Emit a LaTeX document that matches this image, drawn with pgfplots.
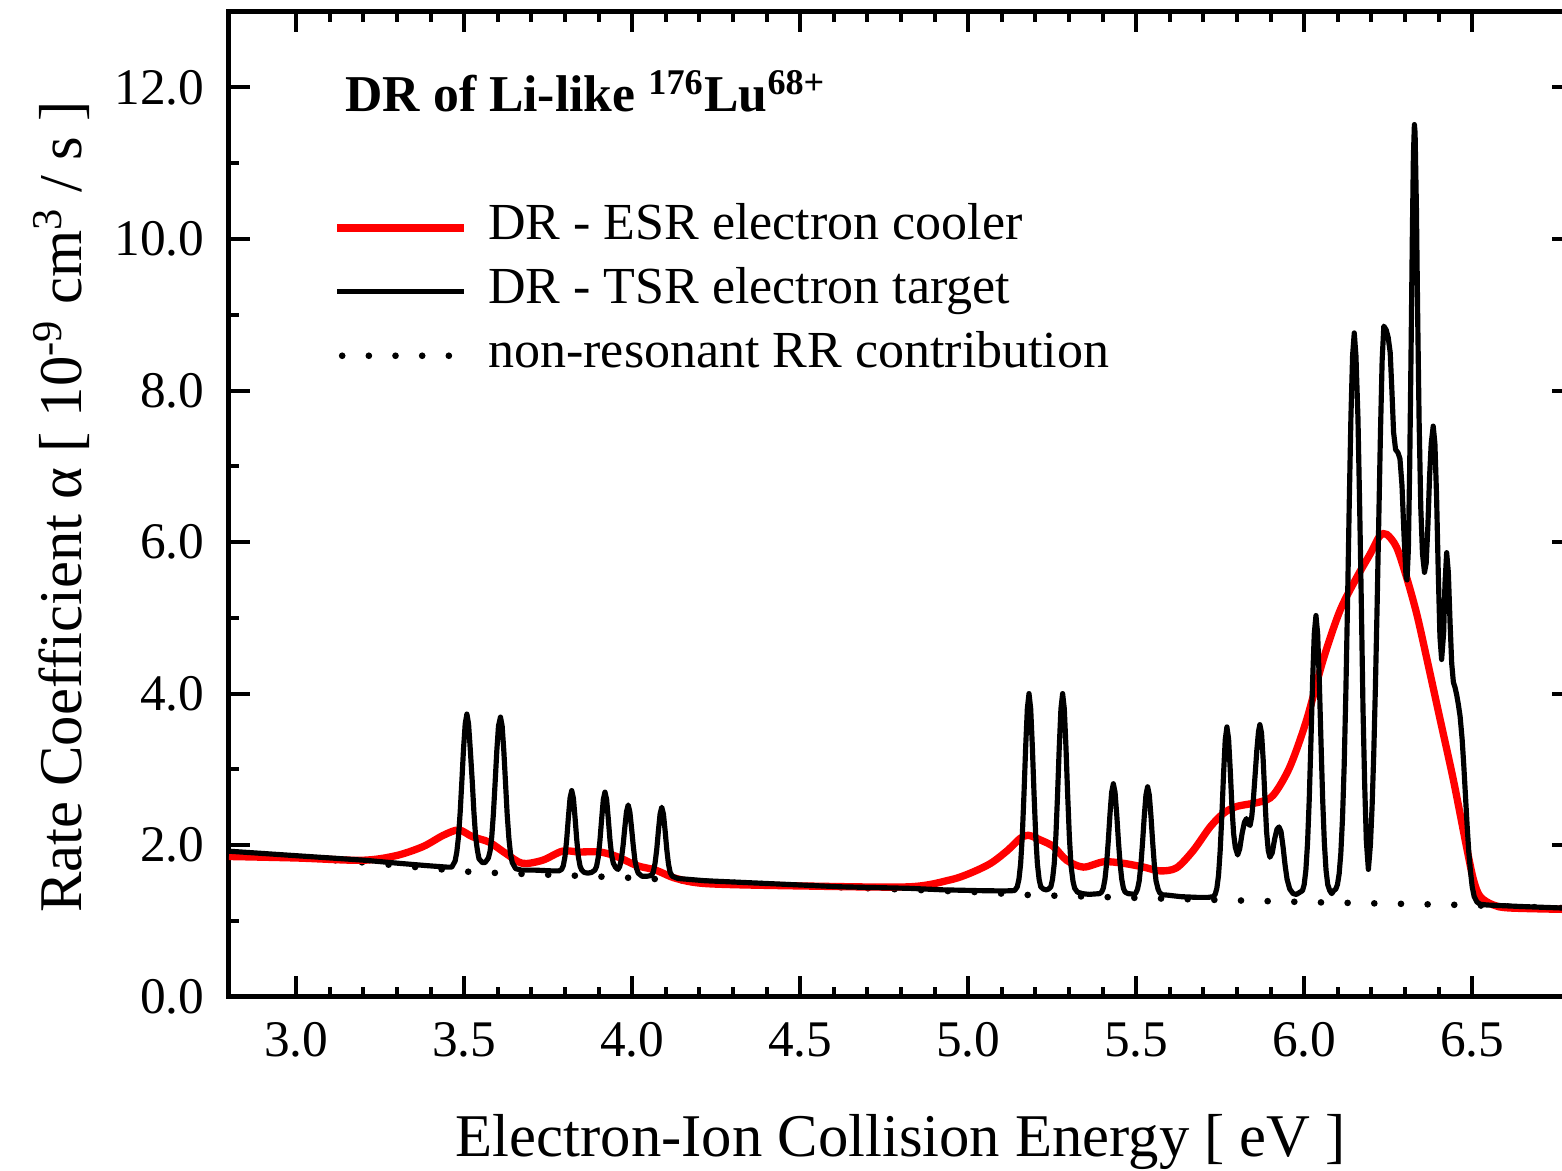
\documentclass[border=0pt]{standalone}
\usepackage{fontspec}
\setmainfont{Liberation Serif}
\usepackage{pgfplots}
\pgfplotsset{compat=1.18}
\begin{document}
\begin{tikzpicture}
\begin{axis}[
  at={(0pt,0pt)}, anchor=south west,
  scale only axis,
  width=403.2pt, height=295.5pt,
  xmin=2.8, xmax=6.8, ymin=0, ymax=13,
  xtick={3.0,3.5,...,6.5},
  ytick={0,2,...,12},
  minor x tick num=4,
  minor y tick num=1,
  tick align=inside,
  major tick length=6.2pt,
  minor tick length=3pt,
  tick style={black, line width=1.2pt},
  axis line style={line width=1.5pt},
  ticklabel style={font=\fontsize{15.4}{18}\selectfont},
  yticklabel style={xshift=-3.9pt},
  xticklabel style={yshift=-4.3pt},
  xlabel={Electron-Ion Collision Energy [ eV ]},
  ylabel={Rate Coefficient α [ 10\textsuperscript{-9} cm\textsuperscript{3} / s ]},
  xlabel style={font=\fontsize{18.2}{22}\selectfont, at={(axis description cs:0.5,-0.1624)}, anchor=base},
  ylabel style={font=\fontsize{18.2}{22}\selectfont, at={(axis description cs:-0.1094,0.497)}, anchor=base},
  legend style={at={(axis description cs:0.0774,0.806)}, anchor=north west, draw=none, fill=none,
    inner sep=0pt, outer sep=0pt, row sep=4.2pt,
    font=\fontsize{15.6}{18}\selectfont,
    nodes={inner sep=0pt, text height=11pt, text depth=4pt}},
  legend cell align=left,
  legend image code/.code={\draw[#1] (0pt,0pt) -- (38pt,0pt);},
  /tikz/every odd column/.append style={column sep=6.1pt},
  /pgf/number format/.cd, fixed, fixed zerofill, precision=1, assume math mode=true
]
% non-resonant RR contribution
\addplot[forget plot, black, line width=2pt, line cap=round, dash pattern=on 0pt off 8pt] coordinates {
(2.800,1.90)(3.002,1.84)(3.205,1.77)(3.407,1.69)(3.508,1.65)(3.610,1.63)(3.812,1.60)(4.014,1.565)(4.217,1.52)(4.520,1.46)(4.773,1.42)(5.026,1.38)(5.158,1.345)(5.279,1.33)(5.532,1.30)(5.755,1.275)(6.038,1.245)(6.291,1.225)(6.473,1.21)(6.544,1.20)(6.800,1.165)};
% DR - ESR electron cooler
\addplot[forget plot, red, line width=2.2pt, smooth] coordinates {
(2.800,1.85)(3.002,1.83)(3.195,1.80)(3.296,1.86)(3.377,1.98)(3.438,2.13)(3.484,2.20)(3.525,2.11)(3.574,2.04)(3.624,1.89)(3.673,1.76)(3.733,1.80)(3.792,1.92)(3.842,1.91)(3.903,1.91)(3.954,1.85)(4.014,1.73)(4.070,1.67)(4.131,1.56)(4.227,1.49)(4.520,1.46)(4.824,1.45)(4.945,1.54)(5.006,1.63)(5.067,1.76)(5.117,1.93)(5.155,2.09)(5.179,2.13)(5.214,2.07)(5.254,1.98)(5.293,1.80)(5.343,1.71)(5.403,1.78)(5.462,1.76)(5.522,1.71)(5.571,1.66)(5.620,1.70)(5.670,1.93)(5.720,2.24)(5.760,2.42)(5.799,2.51)(5.868,2.57)(5.908,2.66)(5.957,3.03)(6.007,3.65)(6.056,4.44)(6.106,5.09)(6.156,5.53)(6.196,5.84)(6.225,6.08)(6.246,6.10)(6.275,5.93)(6.305,5.53)(6.335,5.05)(6.364,4.48)(6.403,3.69)(6.444,2.86)(6.483,1.98)(6.504,1.54)(6.524,1.32)(6.563,1.21)(6.613,1.17)(6.800,1.15)};
% DR - TSR electron target
\addplot[forget plot, black, line width=1.55pt, line join=round] coordinates {
(2.800,1.92)(2.901,1.89)(3.002,1.86)(3.104,1.83)(3.205,1.80)(3.306,1.76)(3.387,1.73)(3.448,1.71)
(3.463,1.71)(3.473,1.79)(3.478,1.91)(3.483,2.11)(3.488,2.43)(3.493,2.84)(3.498,3.27)(3.503,3.60)(3.508,3.73)(3.513,3.60)(3.518,3.27)(3.524,2.84)(3.529,2.43)(3.534,2.11)(3.539,1.94)(3.544,1.82)(3.554,1.77)(3.562,1.77)
(3.572,1.83)(3.577,1.92)(3.582,2.11)(3.587,2.42)(3.592,2.82)(3.597,3.24)(3.602,3.57)(3.608,3.69)(3.613,3.57)(3.618,3.24)(3.623,2.82)(3.628,2.40)(3.633,2.09)(3.638,1.88)(3.643,1.77)(3.653,1.69)(3.670,1.67)(3.711,1.67)(3.761,1.66)(3.782,1.66)
(3.790,1.68)(3.795,1.73)(3.800,1.85)(3.805,2.07)(3.810,2.36)(3.815,2.62)(3.820,2.72)(3.825,2.62)(3.830,2.36)(3.835,2.07)(3.840,1.84)(3.845,1.72)(3.850,1.67)(3.857,1.64)(3.868,1.63)(3.879,1.64)
(3.889,1.67)(3.894,1.72)(3.899,1.84)(3.904,2.06)(3.909,2.34)(3.914,2.60)(3.919,2.70)(3.924,2.60)(3.929,2.34)(3.934,2.06)(3.939,1.86)(3.944,1.76)(3.950,1.71)(3.954,1.69)
(3.958,1.68)(3.963,1.72)(3.968,1.82)(3.973,2.00)(3.978,2.23)(3.983,2.44)(3.988,2.53)(3.993,2.44)(3.998,2.23)(4.003,2.00)(4.008,1.80)(4.013,1.69)(4.018,1.63)(4.029,1.59)(4.045,1.59)
(4.058,1.60)(4.063,1.65)(4.068,1.76)(4.073,1.94)(4.078,2.19)(4.083,2.41)(4.088,2.50)(4.093,2.41)(4.098,2.19)(4.103,1.94)(4.108,1.75)(4.113,1.64)(4.119,1.59)(4.136,1.56)
(4.217,1.53)(4.318,1.51)(4.419,1.49)(4.520,1.47)(4.621,1.45)(4.723,1.44)(4.824,1.43)(4.925,1.41)(5.026,1.40)(5.107,1.395)(5.138,1.40)
(5.146,1.45)(5.151,1.55)(5.156,1.75)(5.161,2.12)(5.166,2.67)(5.171,3.29)(5.176,3.80)(5.181,4.00)(5.186,3.80)(5.191,3.29)(5.196,2.67)(5.201,2.12)(5.206,1.75)(5.211,1.55)(5.216,1.45)(5.224,1.42)(5.232,1.41)(5.239,1.42)
(5.246,1.45)(5.251,1.55)(5.256,1.75)(5.261,2.12)(5.266,2.67)(5.271,3.29)(5.276,3.80)(5.281,4.00)(5.286,3.80)(5.291,3.29)(5.296,2.67)(5.301,2.12)(5.306,1.73)(5.312,1.52)(5.317,1.43)(5.325,1.38)(5.340,1.36)(5.360,1.35)(5.375,1.355)
(5.391,1.36)(5.397,1.38)(5.402,1.43)(5.407,1.55)(5.412,1.76)(5.417,2.06)(5.422,2.41)(5.427,2.70)(5.432,2.81)(5.437,2.70)(5.442,2.41)(5.447,2.06)(5.452,1.76)(5.457,1.55)(5.462,1.43)(5.467,1.38)(5.476,1.36)(5.487,1.355)
(5.494,1.35)(5.499,1.37)(5.504,1.42)(5.509,1.53)(5.514,1.74)(5.519,2.04)(5.524,2.38)(5.529,2.66)(5.534,2.77)(5.539,2.66)(5.544,2.38)(5.549,2.04)(5.554,1.74)(5.559,1.53)(5.565,1.42)(5.570,1.37)(5.578,1.345)(5.593,1.34)(5.633,1.32)(5.684,1.31)(5.714,1.31)(5.729,1.32)
(5.735,1.35)(5.740,1.43)(5.745,1.60)(5.750,1.93)(5.755,2.40)(5.760,2.94)(5.765,3.39)(5.770,3.56)(5.775,3.40)(5.780,2.98)(5.785,2.50)(5.790,2.15)(5.795,1.97)(5.802,1.87)(5.808,1.95)(5.815,2.15)(5.822,2.30)(5.828,2.35)(5.834,2.28)(5.839,2.26)
(5.844,2.38)(5.849,2.62)(5.854,2.93)(5.859,3.25)(5.864,3.50)(5.868,3.59)(5.873,3.48)(5.878,3.12)(5.883,2.63)(5.888,2.18)(5.893,1.93)(5.898,1.84)(5.905,1.90)(5.912,2.08)(5.919,2.21)(5.925,2.24)(5.931,2.18)(5.937,1.98)(5.943,1.74)(5.949,1.55)(5.957,1.42)(5.967,1.36)(5.977,1.35)
(5.995,1.40)(6.000,1.48)(6.005,1.67)(6.010,2.03)(6.015,2.60)(6.020,3.36)(6.025,4.16)(6.030,4.79)(6.035,5.03)(6.040,4.79)(6.045,4.16)(6.050,3.36)(6.055,2.60)(6.060,2.03)(6.065,1.67)(6.070,1.48)(6.076,1.40)(6.082,1.36)(6.088,1.40)
(6.094,1.42)(6.099,1.48)(6.104,1.62)(6.109,1.89)(6.114,2.35)(6.119,3.05)(6.124,4.02)(6.129,5.20)(6.134,6.49)(6.139,7.64)(6.144,8.46)(6.149,8.76)(6.154,8.46)(6.160,7.64)(6.165,6.49)(6.170,5.20)(6.175,3.80)(6.180,2.80)(6.185,2.05)(6.191,1.68)(6.197,2.00)
(6.202,2.50)(6.207,3.20)(6.212,4.10)(6.217,5.15)(6.222,6.30)(6.227,7.45)(6.232,8.40)(6.237,8.85)(6.244,8.80)(6.250,8.70)(6.256,8.50)(6.261,8.00)(6.266,7.45)(6.272,7.22)(6.279,7.18)(6.285,7.10)(6.291,6.75)(6.297,6.10)(6.303,5.55)(6.306,5.50)
(6.310,5.90)(6.314,7.00)(6.318,8.50)(6.322,10.10)(6.325,11.10)(6.328,11.51)(6.330,11.40)(6.334,10.40)(6.338,8.90)(6.342,7.60)(6.347,6.45)(6.352,5.85)(6.358,5.60)(6.363,5.72)
(6.368,6.20)(6.373,6.85)(6.378,7.30)(6.384,7.53)(6.389,7.30)(6.394,6.60)(6.399,5.60)(6.404,4.75)(6.409,4.45)(6.415,4.80)(6.419,5.45)(6.424,5.86)(6.429,5.60)(6.434,4.95)(6.439,4.40)(6.444,4.15)(6.449,4.08)(6.454,3.98)(6.459,3.85)(6.464,3.70)(6.470,3.40)(6.475,3.05)(6.480,2.65)(6.485,2.25)(6.490,1.90)(6.495,1.65)(6.500,1.45)(6.506,1.32)(6.514,1.25)(6.524,1.22)(6.544,1.21)(6.645,1.19)(6.800,1.165)};
\addlegendimage{red, line width=2.5pt}
\addlegendentry{DR - ESR electron cooler}
\addlegendimage{black, line width=1.6pt}
\addlegendentry{DR - TSR electron target}
\addlegendimage{black, line width=2pt, line cap=round, dash pattern=on 0pt off 8pt, dash phase=-1.5pt}
\addlegendentry{non-resonant RR contribution}
\node[anchor=base west, inner sep=0pt, font=\bfseries\fontsize{15.5}{18}\selectfont] at (axis description cs:0.0863,0.8985) {DR of Li-like \textsuperscript{176}Lu\textsuperscript{68+}};
\end{axis}
\pgfresetboundingbox
\useasboundingbox (-68.7pt,-52pt) rectangle (399.9pt,299pt);
\end{tikzpicture}
\end{document}
